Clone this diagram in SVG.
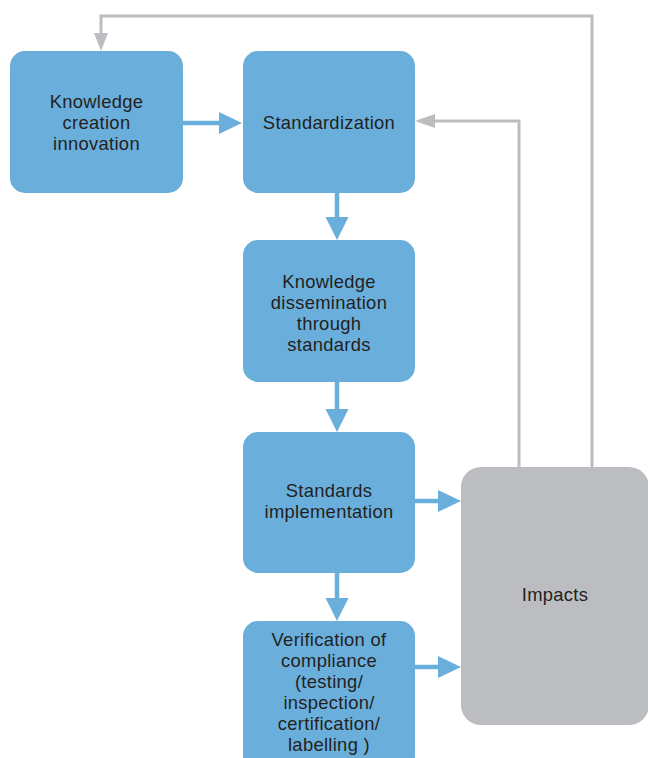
<svg xmlns="http://www.w3.org/2000/svg" width="648" height="758" viewBox="0 0 648 758">
<style>
.box{fill:#6aafdc}
.gbox{fill:#bcbdc1}
.t{font-family:"Liberation Sans",Arial,sans-serif;font-size:18.4px;letter-spacing:0.3px;fill:#231f20;text-anchor:middle}
.bl{stroke:#6aafdc;stroke-width:4.5;fill:none}
.gl{stroke:#bcbdc1;stroke-width:3;fill:none}
.bh{fill:#6aafdc}
.gh{fill:#bcbdc1}
</style>
<rect width="648" height="758" fill="#ffffff"/>
<g id="connectors">
<path class="gl" d="M592,467 V16 H101 V36"/>
<polygon class="gh" points="94,33 108,33 101,51"/>
<path class="gl" d="M519,467 V121 H432"/>
<polygon class="gh" points="435,114 435,128 415,121"/>
<line class="bl" x1="183" y1="123" x2="222" y2="123"/>
<polygon class="bh" points="219,112 219,134 242,123"/>
<line class="bl" x1="337" y1="193" x2="337" y2="220"/>
<polygon class="bh" points="325.5,217 348.5,217 337,240"/>
<line class="bl" x1="337" y1="382" x2="337" y2="412"/>
<polygon class="bh" points="325.5,409 348.5,409 337,432"/>
<line class="bl" x1="337" y1="573" x2="337" y2="601"/>
<polygon class="bh" points="325.5,598 348.5,598 337,621"/>
<line class="bl" x1="415" y1="501" x2="441" y2="501"/>
<polygon class="bh" points="438,490 438,512 461,501"/>
<line class="bl" x1="415" y1="667" x2="441" y2="667"/>
<polygon class="bh" points="438,656 438,678 461,667"/>
</g>
<g id="knowledge-creation">
<rect class="box" x="10" y="51" width="173" height="142" rx="15"/>
<text class="t" x="96.5"><tspan x="96.5" y="108">Knowledge</tspan><tspan x="96.5" y="129">creation</tspan><tspan x="96.5" y="150">innovation</tspan></text>
</g>
<g id="standardization">
<rect class="box" x="243" y="51" width="172" height="142" rx="15"/>
<text class="t" x="329" y="129">Standardization</text>
</g>
<g id="dissemination">
<rect class="box" x="243" y="240" width="172" height="142" rx="15"/>
<text class="t"><tspan x="329" y="288">Knowledge</tspan><tspan x="329" y="309">dissemination</tspan><tspan x="329" y="330">through</tspan><tspan x="329" y="351">standards</tspan></text>
</g>
<g id="implementation">
<rect class="box" x="243" y="432" width="172" height="141" rx="15"/>
<text class="t"><tspan x="329" y="497">Standards</tspan><tspan x="329" y="518">implementation</tspan></text>
</g>
<g id="verification">
<rect class="box" x="243" y="621" width="172" height="150" rx="15"/>
<text class="t"><tspan x="329" y="646">Verification of</tspan><tspan x="329" y="667">compliance</tspan><tspan x="329" y="688">(testing/</tspan><tspan x="329" y="709">inspection/</tspan><tspan x="329" y="730">certification/</tspan><tspan x="329" y="751">labelling )</tspan></text>
</g>
<g id="impacts">
<rect class="gbox" x="461" y="467" width="188" height="258" rx="20"/>
<text class="t" x="555" y="601">Impacts</text>
</g>
</svg>
